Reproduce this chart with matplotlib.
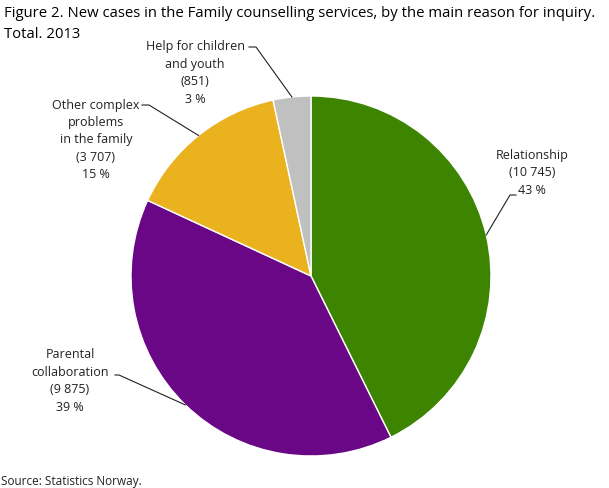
import numpy as np
import matplotlib
matplotlib.use('Agg')
import matplotlib.pyplot as plt

# Data
categories = ['Relationship', 'Parental\ncollaboration', 'Other complex\nproblems\nin the family',
              'Help for children\nand youth']
cases = [10745, 9875, 3707, 851]
shares = [43, 39, 15, 3]
colors = ['#3d8500', '#6a0787', '#ebb220', '#c0c0c0']

W, H = 609, 488
plt.rcParams['font.family'] = ['Open Sans', 'DejaVu Sans']

fig = plt.figure(figsize=(W / 100, H / 100), dpi=100)
ax = fig.add_axes([0, 0, 1, 1])

cx, cy, r = 311, H - 276, 180
wedges, _ = ax.pie(cases, colors=colors, startangle=90, counterclock=False,
                   center=(cx, cy), radius=r, frame=True,
                   wedgeprops=dict(edgecolor='white', linewidth=1))
ax.set_xlim(0, W)
ax.set_ylim(0, H)
ax.set_aspect('equal')
ax.axis('off')

def fmt(n):
    return f'{n:,}'.replace(',', ' ')

# label placement (text centre, leader start, elbow) in pixel coords from top
layout = [
    dict(xy=(532, 173), start=(516, 195), elbow=(510, 195)),
    dict(xy=(70, 381), start=(115, 375), elbow=(119, 375)),
    dict(xy=(96, 140), start=(142, 105), elbow=(149, 105)),
    dict(xy=(195, 73), start=(249, 47), elbow=(256, 47)),
]

for w, cat, n, p, lay in zip(wedges, categories, cases, shares, layout):
    mid = np.deg2rad((w.theta1 + w.theta2) / 2)
    tip = (cx + r * np.cos(mid), cy + r * np.sin(mid))
    txt = f'{cat}\n({fmt(n)})\n{p} %'
    ax.text(lay['xy'][0], H - lay['xy'][1], txt, ha='center', va='center',
            fontsize=9, color='#222222', linespacing=1.45)
    xs = [lay['start'][0], lay['elbow'][0], tip[0]]
    ys = [H - lay['start'][1], H - lay['elbow'][1], tip[1]]
    ax.plot(xs, ys, color='#222222', linewidth=0.8)

fig.text(4 / W, 1 - 6 / H, 'Figure 2. New cases in the Family counselling services, by the main reason for inquiry.\nTotal. 2013',
         ha='left', va='top', fontsize=10.7, color='black', linespacing=1.5)
fig.text(1 / W, 1 - 481 / H, 'Source: Statistics Norway.', ha='left', va='center',
         fontsize=8.5, color='#222222')

fig.savefig('out.png', dpi=100)
